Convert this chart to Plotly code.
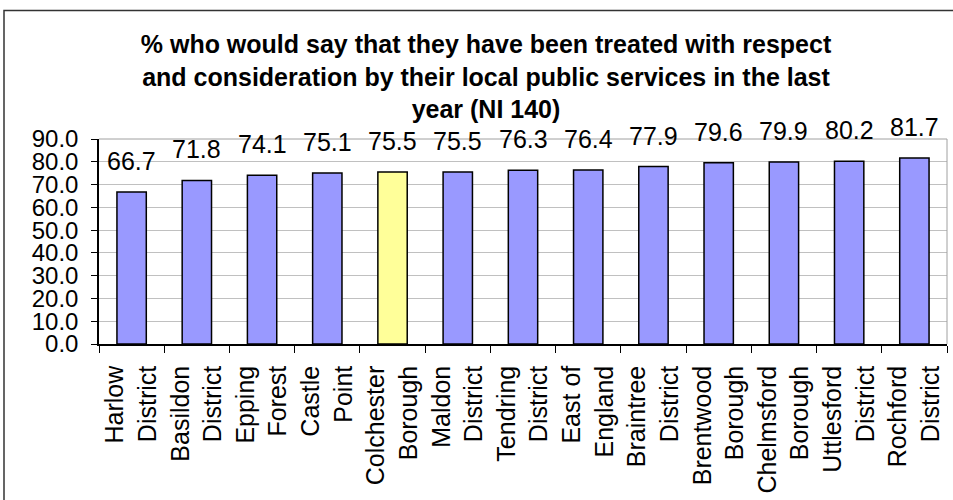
import plotly.graph_objects as go

categories = ["Harlow<br>District", "Basildon<br>District", "Epping<br>Forest", "Castle<br>Point",
              "Colchester<br>Borough", "Maldon<br>District", "Tendring<br>District", "East of<br>England",
              "Braintree<br>District", "Brentwood<br>Borough", "Chelmsford<br>Borough", "Uttlesford<br>District",
              "Rochford<br>District"]
values = [66.7, 71.8, 74.1, 75.1, 75.5, 75.5, 76.3, 76.4, 77.9, 79.6, 79.9, 80.2, 81.7]
highlight = "Colchester<br>Borough"
y_ticks = [0, 10, 20, 30, 40, 50, 60, 70, 80, 90]
title_text = ("% who would say that they have been treated with respect<br>"
              "and consideration by their local public services in the last<br>"
              "year (NI 140)")

W, H = 953, 500
ml, mr, mt, mb = 99, 6, 139, 152

colors = ["#FFFF99" if c == highlight else "#9999FF" for c in categories]
FONT = "Liberation Sans, Arial, sans-serif"

fig = go.Figure()
fig.add_trace(go.Bar(
    x=categories, y=values,
    marker=dict(color=colors, line=dict(color="#000000", width=1.5)),
    hoverinfo="skip",
))

for c, v in zip(categories, values):
    fig.add_annotation(x=c, y=v, text=f"{v:.1f}", showarrow=False,
                       yanchor="bottom", yshift=15,
                       font=dict(family=FONT, size=25, color="#000000"))

pw = W - ml - mr
ph = H - mt - mb
fig.add_shape(type="rect", xref="paper", yref="paper",
              x0=(4 - ml) / pw, x1=(960 - ml) / pw,
              y0=(H - 510 - mb) / ph, y1=(H - 8 - mb) / ph,
              line=dict(color="#333333", width=1.5), fillcolor="rgba(0,0,0,0)", layer="above")

fig.update_layout(
    width=W, height=H,
    margin=dict(l=ml, r=mr, t=mt, b=mb),
    paper_bgcolor="#FFFFFF", plot_bgcolor="#FFFFFF",
    bargap=0.55,
    showlegend=False,
    title=dict(text=title_text, x=486 / W, xanchor="center", xref="container",
               y=1 - 53 / H, yanchor="top", yref="container",
               font=dict(family=FONT, size=25, color="#000000", weight="bold")),
    font=dict(family=FONT, color="#000000"),
)
fig.update_xaxes(
    tickangle=-90, tickfont=dict(family=FONT, size=25, color="#000000"),
    showline=True, linecolor="#000000", linewidth=1.5,
    ticks="outside", ticklen=7, tickcolor="#000000", tickson="boundaries",
    ticklabelstandoff=10,
    showgrid=False, mirror=False,
)
fig.update_yaxes(
    range=[0, 90], tickvals=y_ticks, ticktext=[f"{t:.1f}" for t in y_ticks],
    tickfont=dict(family=FONT, size=24, color="#000000"),
    showline=True, linecolor="#000000", linewidth=1.5,
    ticks="outside", ticklen=6, tickcolor="#000000",
    ticklabelstandoff=8,
    showgrid=True, gridcolor="#C0C0C0", gridwidth=1,
    zeroline=False,
)
# plot area right/top border (grey)
fig.add_shape(type="line", xref="paper", yref="paper", x0=0, x1=1, y0=1, y1=1,
              line=dict(color="#A0A0A0", width=1))
fig.add_shape(type="line", xref="paper", yref="paper", x0=1, x1=1, y0=0, y1=1,
              line=dict(color="#A0A0A0", width=1))

fig.write_html("out.html")
